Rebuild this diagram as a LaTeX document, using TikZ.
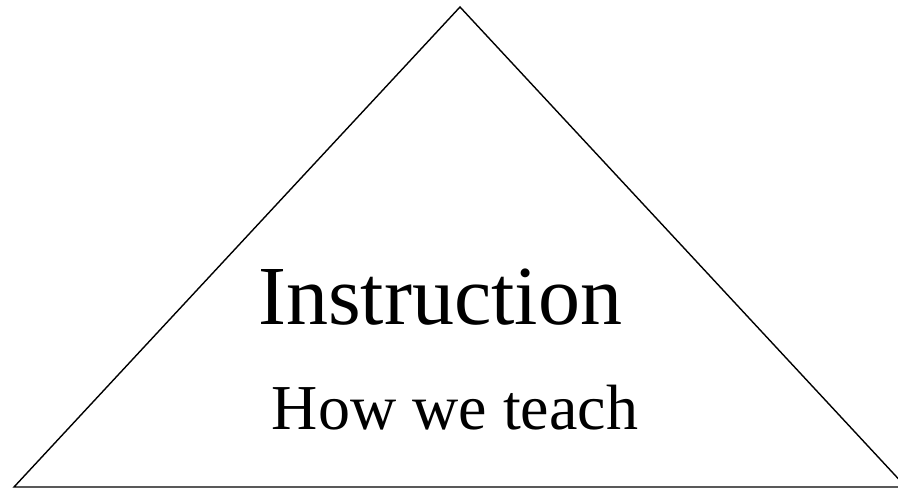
\documentclass[tikz,border=0pt]{standalone}
\usepackage{fontspec}
\setmainfont{Liberation Serif}
\usepackage{tikz}
\usetikzlibrary{positioning,calc}

\begin{document}
\begin{tikzpicture}[
  x=1pt,y=1pt,
  edge/.style={draw,line width=1.4pt,line join=miter},
  title/.style={anchor=base,inner sep=0pt,font=\fontsize{84}{90}\selectfont},
  subtitle/.style={anchor=base,inner sep=0pt,font=\fontsize{64}{70}\selectfont}
]
\clip (0,0) rectangle (898,489);
\coordinate (apex) at (460,482);
\coordinate (left) at (14,2);
\coordinate (right) at (906,2);
\draw[edge] (left) -- (apex) -- (right) -- cycle;
\node[title] (instr) at (440,164) {Instruction};
\node[subtitle] (how) at (455,59) {How we teach};
\end{tikzpicture}
\end{document}
